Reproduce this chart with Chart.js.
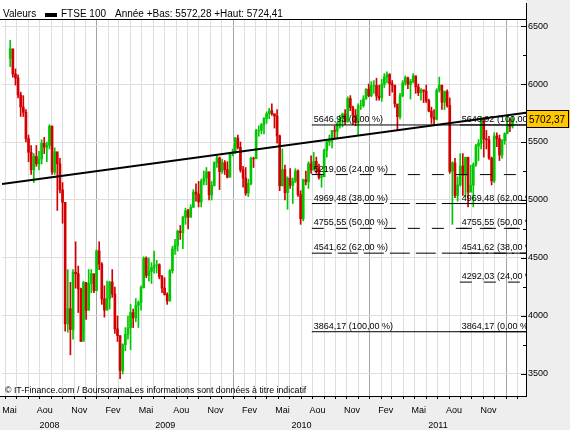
<!DOCTYPE html>
<html>
<head>
<meta charset="utf-8">
<title>FTSE 100</title>
<script src="https://cdn.jsdelivr.net/npm/chart.js@4.4.1/dist/chart.umd.min.js"></script>
<style>
  html, body { margin: 0; padding: 0; background: #eeeeee; }
  canvas { display: block; }
</style>
</head>
<body>
<canvas id="chart" width="570" height="430"></canvas>
<script>
const FONT = '"Liberation Sans", Arial, sans-serif';
const GREEN = '#00c800';
const RED = '#d40000';

// one candle per week, first one is the week ending 16 May 2008
const firstWeek = '2008-05-14';
const prevClose = 6220;

const weekLow = [
  6150, 6060, 5990, 5880, 5720, 5720, 5500, 5330, 5220, 5150, 5290, 5260, 5310, 5400, 5330, 5440, 5220, 5220, 4910, 5060,
  4800, 3870, 3860, 3665, 3800, 4240, 4030, 3780, 3870, 3970, 4050, 4200, 4200,
  4350, 4400, 4100, 3990, 4050, 4060, 4160, 3850, 3780, 3460, 3500, 3700, 3800, 3710, 3900, 3950, 3900, 4050, 4240, 4330,
  4300, 4280, 4370, 4370, 4320, 4200, 4180, 4100, 4130, 4370, 4530, 4560, 4660, 4580, 4790, 4750, 4850, 4940, 4990, 4940,
  4940, 5130, 5130, 5000, 5000, 5120, 5280, 5090, 5230, 5220, 5190, 5200,
  5380, 5400, 5440, 5240, 5110, 5040, 5030, 5130, 5280, 5360, 5550, 5570, 5570, 5660, 5700, 5730, 5620, 5490, 5080, 5120,
  5000, 4920, 5100, 4970, 5150, 5030, 4790, 4820, 5130, 5100, 5230, 5260, 5230, 5180, 5110, 5200, 5370, 5470, 5450, 5530,
  5530, 5620, 5630, 5650, 5670, 5770, 5650, 5640, 5560, 5780, 5800, 5870, 5890,
  5890, 5920, 5860, 5860, 5850, 5970, 6010, 5900, 5930, 5800, 5600, 5700, 5890, 5990, 5960, 5870, 6010, 5920, 5900, 5860,
  5840, 5840, 5760, 5660, 5650, 5690, 5930, 5780, 5780, 5800, 5230, 4790, 5020, 4990, 5120, 5040, 5030, 4940, 5080, 4940,
  5290, 5340, 5440, 5370, 5440, 5350, 5130, 5150, 5460, 5340, 5360, 5480,
  5572, 5590, 5620
];
const weekHigh = [
  6376, 6300, 6130, 6080, 5930, 5900, 5780, 5560, 5470, 5400, 5470, 5420, 5520, 5540, 5500, 5650, 5640, 5450, 5320, 5360,
  5150, 4620, 4400, 4290, 4400, 4640, 4430, 4240, 4300, 4290, 4400, 4400, 4340,
  4570, 4640, 4460, 4260, 4300, 4300, 4400, 4250, 4000, 3830, 3760, 3900, 4000, 4100, 4060, 4150, 4130, 4260, 4510, 4510,
  4500, 4460, 4560, 4480, 4450, 4350, 4330, 4200, 4400, 4600, 4660, 4740, 4780, 4860, 4930, 4920, 4960, 5090, 5140, 5160,
  5180, 5250, 5280, 5240, 5160, 5330, 5380, 5370, 5350, 5340, 5330, 5410,
  5440, 5540, 5560, 5500, 5290, 5280, 5180, 5370, 5370, 5610, 5640, 5660, 5710, 5760, 5790, 5830, 5740, 5780, 5560, 5440,
  5300, 5200, 5270, 5190, 5270, 5260, 5080, 5180, 5250, 5330, 5380, 5410, 5370, 5310, 5220, 5440, 5510, 5560, 5600, 5640,
  5670, 5730, 5750, 5780, 5890, 5900, 5810, 5780, 5830, 5860, 5900, 5960, 6000,
  6020, 6030, 6050, 5990, 6040, 6090, 6105, 6090, 6030, 5990, 5800, 5920, 6030, 6070, 6060, 6040, 6090, 6070, 6000, 5960,
  5950, 5990, 5870, 5800, 5780, 5960, 6060, 5990, 5940, 5950, 5880, 5330, 5360, 5200, 5400, 5400, 5370, 5370, 5300, 5320,
  5480, 5520, 5720, 5710, 5600, 5550, 5370, 5580, 5580, 5560, 5520, 5580,
  5724, 5700, 5720
];
const weekClose = [
  6304, 6087, 6053, 5906, 5802, 5756, 5529, 5412, 5261, 5376, 5312, 5354, 5489, 5455, 5471, 5636, 5241, 5416, 5311, 5088,
  4980, 3932, 4063, 3883, 4377, 4365, 4233, 3781, 4288, 4049, 4280, 4365, 4217,
  4562, 4448, 4147, 4051, 4149, 4292, 4189, 3889, 3830, 3530, 3753, 3842, 3898, 4030, 3983, 4092, 4118, 4244, 4498, 4349,
  4385, 4418, 4438, 4442, 4339, 4241, 4186, 4128, 4390, 4577, 4608, 4731, 4718, 4851, 4908, 4852, 4936, 5068, 5051, 4983,
  5162, 5190, 5243, 5044, 5125, 5322, 5364, 5245, 5322, 5261, 5196, 5402,
  5413, 5534, 5455, 5260, 5189, 5060, 5142, 5358, 5355, 5600, 5601, 5650, 5703, 5744, 5770, 5744, 5723, 5553, 5123, 5262,
  5063, 5188, 5126, 5163, 5250, 5046, 4838, 5175, 5159, 5313, 5258, 5333, 5276, 5195, 5201, 5428, 5501, 5508, 5599, 5593,
  5657, 5703, 5741, 5675, 5875, 5796, 5732, 5668, 5812, 5813, 5871, 5955, 5900,
  5985, 5987, 5896, 5881, 5997, 6062, 6083, 6001, 5990, 5828, 5719, 5901, 6009, 6055, 5996, 6022, 6070, 5976, 5925, 5948,
  5938, 5856, 5766, 5714, 5697, 5946, 5990, 5843, 5935, 5815, 5247, 5320, 5040, 5130, 5293, 5215, 5368, 5067, 5128, 5303,
  5466, 5488, 5702, 5527, 5519, 5362, 5164, 5552, 5529, 5387, 5512, 5572,
  5650, 5636, 5702
];

const lastPrice = 5702.37;
const yearLow = 5572.28;
const yearHigh = 5724.41;

const axisStart = '2008-04-22';
const axisEnd = '2012-02-23';
const priceMin = 3310;
const priceMax = 6552;
const priceTicks = [3500, 3750, 4000, 4250, 4500, 4750, 5000, 5250, 5500, 5750, 6000, 6250, 6500];
const monthNames = ['Jan', 'Fev', 'Mar', 'Avr', 'Mai', 'Jun', 'Jul', 'Aou', 'Sep', 'Oct', 'Nov', 'Dec'];
const yearLabels = ['2008', '2009', '2010', '2011'];

// long trend line
const trendDates = ['2008-04-22', '2012-02-23'];
const trendValues = [5138, 5753];

// two fibonacci retracement sets
const fibLeftStart = '2010-07-30';
const fibLeftLevels = [5646.93, 5219.06, 4969.48, 4755.55, 4541.62, 3864.17];
const fibLeftPct = ['0,00', '24,00', '38,00', '50,00', '62,00', '100,00'];
const fibRightStart = '2011-08-30';
const fibRightLevels = [5646.92, 4969.48, 4755.55, 4541.62, 4292.03, 3864.17];
const fibRightPct = ['100,00', '62,00', '50,00', '38,00', '24,00', '0,00'];

function dayOf(str) {
    return Date.parse(str + 'T00:00:00Z') / 86400000;
}
function dateOf(day) {
    return new Date(day * 86400000);
}
function frNum(v) {
    return v.toFixed(2).replace('.', ',');
}

const xMin = dayOf(axisStart);
const xMax = dayOf(axisEnd);

// month gridlines
const monthTicks = [];
for (let y = 2008, m = 4; ; m++) {
    if (m > 11) { m = 0; y++; }
    const d = Date.UTC(y, m, 1) / 86400000;
    if (d > xMax) break;
    if (d >= xMin) monthTicks.push(d);
}

// year labels sit in the middle of the visible part of each year
const yearBounds = [xMin];
yearLabels.forEach(y => yearBounds.push(Date.UTC(+y + 1, 0, 1) / 86400000));
const yearCenters = yearLabels.map((y, i) => (yearBounds[i] + yearBounds[i + 1]) / 2);

const firstDay = dayOf(firstWeek);
const weekOpen = weekClose.map((c, i) => (i === 0 ? prevClose : weekClose[i - 1]));
const wicks = weekLow.map((lo, i) => ({ x: firstDay + 7 * i, y: [lo, weekHigh[i]] }));
const bodies = weekClose.map((c, i) => ({ x: firstDay + 7 * i, y: [weekOpen[i], c] }));
const barColors = weekClose.map((c, i) => (c >= weekOpen[i] ? GREEN : RED));

function fibDash(pct) {
    if (pct === '0,00' || pct === '100,00') return [];
    if (pct === '24,00' || pct === '50,00') return [12, 12];
    return [20, 6];
}

function fibDatasets(start, levels, pcts) {
    return levels.map((lvl, i) => ({
        type: 'line',
        data: [{ x: dayOf(start), y: lvl }, { x: xMax, y: lvl }],
        borderColor: '#000000',
        borderWidth: 1,
        borderDash: fibDash(pcts[i]),
        pointRadius: 0,
        order: 1
    }));
}

const decor = {
    id: 'decor',
    beforeDraw(chart) {
        const { ctx, chartArea: a, width, height } = chart;
        ctx.save();
        ctx.fillStyle = '#eeeeee';
        ctx.fillRect(0, 0, width, height);
        ctx.fillStyle = '#ffffff';
        ctx.fillRect(0, 0, a.right, a.bottom);
        ctx.restore();
    },
    afterDatasetsDraw(chart) {
        const { ctx, chartArea: a } = chart;
        const xs = chart.scales.x;
        const ys = chart.scales.y;
        ctx.save();
        ctx.beginPath();
        ctx.rect(a.left, a.top, a.right - a.left, a.bottom - a.top);
        ctx.clip();
        ctx.fillStyle = '#000';
        ctx.font = '9px ' + FONT;
        ctx.textBaseline = 'alphabetic';
        const sets = [[fibLeftStart, fibLeftLevels, fibLeftPct], [fibRightStart, fibRightLevels, fibRightPct]];
        sets.forEach(([start, levels, pcts]) => {
            const x0 = xs.getPixelForValue(dayOf(start)) + 2;
            levels.forEach((lvl, i) => {
                ctx.fillText(frNum(lvl) + ' (' + pcts[i] + ' %)', x0, ys.getPixelForValue(lvl) - 3);
            });
        });
        ctx.font = '8.8px ' + FONT;
        ctx.fillText('\u00a9 IT-Finance.com / BoursoramaLes informations sont données à titre indicatif', a.left + 3, a.bottom - 3);
        ctx.restore();
    },
    afterDraw(chart) {
        const { ctx, chartArea: a } = chart;
        const ys = chart.scales.y;
        ctx.save();
        ctx.strokeStyle = '#000';
        ctx.lineWidth = 1;
        ctx.beginPath();
        ctx.moveTo(0, a.top - 0.5);
        ctx.lineTo(a.right + 1, a.top - 0.5);
        ctx.moveTo(a.right + 0.5, 3);
        ctx.lineTo(a.right + 0.5, a.bottom + 1);
        ctx.moveTo(0, a.bottom + 0.5);
        ctx.lineTo(a.right + 1, a.bottom + 0.5);
        // inner ticks of the price axis
        priceTicks.forEach(v => {
            const y = Math.round(ys.getPixelForValue(v)) + 0.5;
            const len = v % 500 === 0 ? 5 : 3;
            ctx.moveTo(a.right - len, y);
            ctx.lineTo(a.right, y);
        });
        ctx.stroke();

        // header
        ctx.fillStyle = '#000';
        ctx.font = '10px ' + FONT;
        ctx.textBaseline = 'alphabetic';
        ctx.fillText('Valeurs', 3, 17);
        ctx.fillRect(45, 13, 12, 4);
        ctx.fillText('FTSE 100', 61, 17);
        ctx.fillText('Année +Bas: ' + frNum(yearLow) + ' +Haut: ' + frNum(yearHigh), 115, 17);

        // last price box
        const py = Math.round(ys.getPixelForValue(lastPrice));
        ctx.fillStyle = '#ffc800';
        ctx.fillRect(a.right + 1, py - 9, 43, 18);
        ctx.strokeRect(a.right + 0.5, py - 8.5, 42, 17);
        ctx.fillStyle = '#000';
        ctx.textBaseline = 'middle';
        ctx.fillText(frNum(lastPrice), a.right + 3, py + 1);
        ctx.restore();
    }
};

Chart.defaults.font.family = FONT;

const datasets = [
    {
        type: 'line',
        data: trendDates.map((d, i) => ({ x: dayOf(d), y: trendValues[i] })),
        borderColor: '#000000',
        borderWidth: 2,
        pointRadius: 0,
        order: 0
    },
    ...fibDatasets(fibLeftStart, fibLeftLevels, fibLeftPct),
    ...fibDatasets(fibRightStart, fibRightLevels, fibRightPct),
    {
        type: 'bar',
        data: bodies,
        backgroundColor: barColors,
        borderWidth: 0,
        barThickness: 2,
        grouped: false,
        order: 5
    },
    {
        type: 'bar',
        data: wicks,
        backgroundColor: barColors,
        borderWidth: 0,
        barThickness: 1,
        grouped: false,
        order: 6
    }
];

new Chart(document.getElementById('chart'), {
    type: 'bar',
    data: { datasets: datasets },
    options: {
        responsive: false,
        animation: false,
        devicePixelRatio: 1,
        layout: { padding: { top: 20, left: 2, right: 0, bottom: 0 } },
        plugins: { legend: { display: false }, tooltip: { enabled: false } },
        scales: {
            x: {
                type: 'linear',
                position: 'bottom',
                min: xMin,
                max: xMax,
                offset: false,
                weight: 0,
                afterBuildTicks: s => { s.ticks = monthTicks.map(v => ({ value: v })); },
                afterFit: s => { s.height = 22; s.paddingLeft = 0; s.paddingRight = 0; },
                ticks: {
                    autoSkip: false,
                    maxRotation: 0,
                    align: 'start',
                    labelOffset: -3,
                    padding: 6,
                    color: '#000',
                    font: { size: 9 },
                    callback: v => {
                        const m = dateOf(v).getUTCMonth();
                        return (m % 3 === 1 && v < xMax - 30) ? monthNames[m] : '';
                    }
                },
                grid: {
                    offset: false,
                    color: c => (c.tick && dateOf(c.tick.value).getUTCMonth() === 0) ? '#a4a4a4' : '#dedede',
                    tickColor: '#000',
                    tickLength: 3
                },
                border: { display: false }
            },
            x2: {
                type: 'linear',
                position: 'bottom',
                min: xMin,
                max: xMax,
                offset: false,
                weight: 1,
                afterBuildTicks: s => { s.ticks = yearCenters.map(v => ({ value: v })); },
                afterFit: s => { s.height = 12; s.paddingLeft = 0; s.paddingRight = 0; },
                ticks: {
                    autoSkip: false,
                    maxRotation: 0,
                    padding: 2,
                    color: '#000',
                    font: { size: 9 },
                    callback: (v, i) => yearLabels[i]
                },
                grid: { display: false, drawTicks: false, offset: false },
                border: { display: false }
            },
            y: {
                type: 'linear',
                position: 'right',
                min: priceMin,
                max: priceMax,
                afterBuildTicks: s => { s.ticks = priceTicks.map(v => ({ value: v })); },
                afterFit: s => { s.width = 44; s.paddingTop = 0; s.paddingBottom = 0; },
                ticks: {
                    autoSkip: false,
                    padding: 2,
                    color: '#000',
                    font: { size: 9 },
                    callback: v => (v % 500 === 0 ? String(v) : '')
                },
                grid: {
                    color: c => (c.tick && c.tick.value % 500 === 0) ? '#dedede' : 'rgba(0,0,0,0)',
                    drawTicks: false
                },
                border: { display: false }
            }
        }
    },
    plugins: [decor]
});
</script>
</body>
</html>
